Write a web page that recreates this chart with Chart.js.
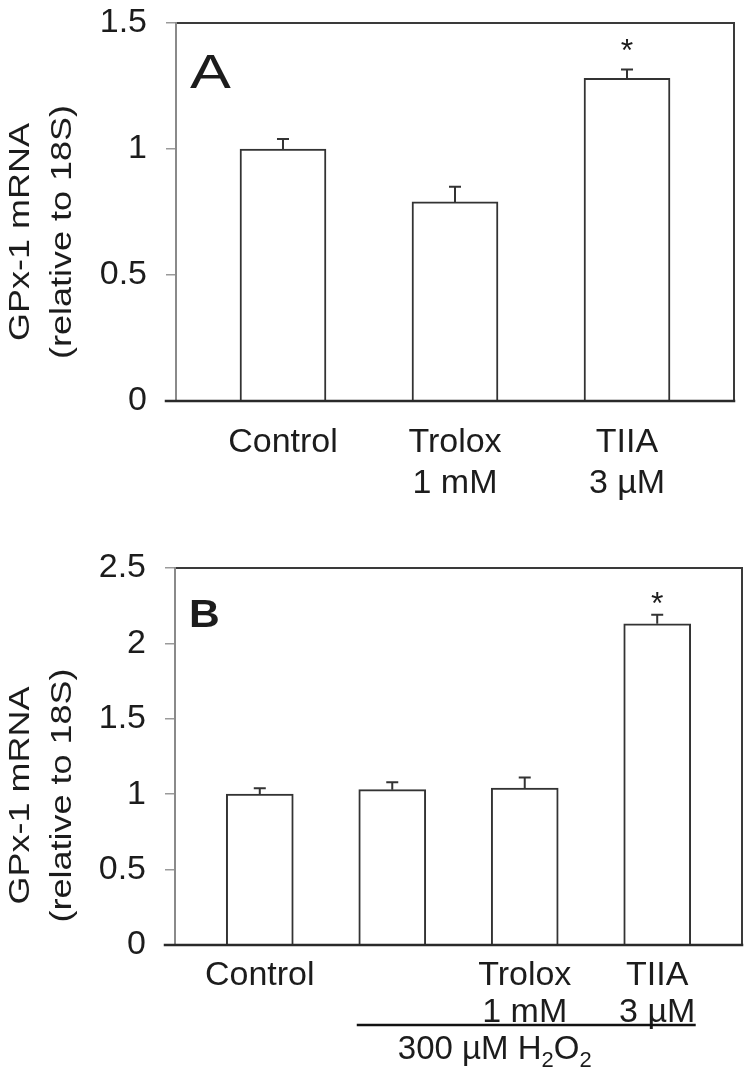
<!DOCTYPE html>
<html>
<head>
<meta charset="utf-8">
<script src="https://cdn.jsdelivr.net/npm/chart.js@4.4.1/dist/chart.umd.min.js"></script>
<style>
  body { margin: 0; background: #fff; }
  canvas { position: absolute; left: 0; }
  #chartA { top: 0; }
  #chartB { top: 520px; }
</style>
</head>
<body>
<canvas id="chartA" width="750" height="520"></canvas>
<canvas id="chartB" width="750" height="548"></canvas>
<script>
// Panel A
const catsA = [['Control'], ['Trolox', '1 mM'], ['TIIA', '3 µM']];
const meanA = [1.00, 0.79, 1.28];
const semA = [0.04, 0.06, 0.035];
const starA = [false, false, true];
const yTicksA = [0, 0.5, 1, 1.5];

// Panel B
const catsB = [['Control'], [''], ['Trolox', '1 mM'], ['TIIA', '3 µM']];
const meanB = [1.00, 1.03, 1.04, 2.13];
const semB = [0.04, 0.05, 0.07, 0.06];
const starB = [false, false, false, true];
const yTicksB = [0, 0.5, 1, 1.5, 2, 2.5];
const groupB = [1, 3];          // bars under the H2O2 line (index from..to)
const groupLabelB = ['300 µM H', '2', 'O', '2'];

const yTitle = ['GPx-1 mRNA', '(relative to 18S)'];
const FONT = '"Liberation Sans", Arial, sans-serif';
const INK = '#1c1c1c';

// Rahmen, Fehlerbalken, Sternchen, Buchstabe
const panelPlugin = {
  id: 'panelExtras',
  afterDraw(chart) {
    const o = chart.options.plugins.panelExtras;
    const ctx = chart.ctx;
    const a = chart.chartArea;
    const xs = chart.scales.x, ys = chart.scales.y;
    ctx.save();

    // frame
    ctx.lineCap = 'square';
    ctx.strokeStyle = '#3a3a3a';
    ctx.lineWidth = 2;
    ctx.beginPath();
    ctx.moveTo(a.left, a.top); ctx.lineTo(a.right, a.top); ctx.lineTo(a.right, a.bottom);
    ctx.stroke();
    ctx.strokeStyle = '#8a8a8a';
    ctx.beginPath();
    ctx.moveTo(a.left, a.top); ctx.lineTo(a.left, a.bottom);
    ctx.stroke();
    ctx.strokeStyle = '#2a2a2a';
    ctx.lineWidth = 2.5;
    ctx.beginPath();
    ctx.moveTo(a.left - 10, a.bottom); ctx.lineTo(a.right, a.bottom);
    ctx.stroke();

    // error bars + stars
    const meta = chart.getDatasetMeta(0);
    ctx.strokeStyle = '#333';
    ctx.lineWidth = 2;
    ctx.lineCap = 'butt';
    meta.data.forEach((bar, i) => {
      const top = ys.getPixelForValue(o.mean[i]);
      const tip = ys.getPixelForValue(o.mean[i] + o.sem[i]);
      ctx.beginPath();
      ctx.moveTo(bar.x, top); ctx.lineTo(bar.x, tip);
      ctx.moveTo(bar.x - 6, tip); ctx.lineTo(bar.x + 6, tip);
      ctx.stroke();
      if (o.star[i]) {
        ctx.fillStyle = INK;
        ctx.font = '32px ' + FONT;
        ctx.textAlign = 'center';
        ctx.textBaseline = 'alphabetic';
        ctx.fillText('*', bar.x, tip - o.starGap + 18);
      }
    });

    // panel letter (etwas breiter gezogen wie im Original)
    ctx.fillStyle = INK;
    ctx.font = o.letterFont;
    ctx.textAlign = 'left';
    ctx.textBaseline = 'alphabetic';
    ctx.save();
    ctx.translate(a.left + 14, a.top + o.letterDrop);
    ctx.scale(o.letterStretch, 1);
    ctx.fillText(o.letter, 0, 0);
    ctx.restore();

    // y title (two lines, rotated)
    ctx.font = '30px ' + FONT;
    ctx.textAlign = 'center';
    ctx.textBaseline = 'middle';
    const cy = (a.top + a.bottom) / 2 + o.titleShift;
    yTitle.forEach((line, k) => {
      ctx.save();
      ctx.translate(21 + k * 42, cy);
      ctx.rotate(-Math.PI / 2);
      ctx.scale(1.2, 1);
      ctx.fillText(line, 0, 0);
      ctx.restore();
    });

    // group line with label (panel B)
    if (o.group) {
      const half = o.barThickness / 2;
      const x0 = xs.getPixelForValue(o.group[0] + 1) - half - 2;
      const x1 = xs.getPixelForValue(o.group[1] + 1) + half + 5;
      const ly = a.bottom + 80;
      ctx.strokeStyle = '#111';
      ctx.lineWidth = 2.5;
      ctx.beginPath();
      ctx.moveTo(x0, ly); ctx.lineTo(x1, ly);
      ctx.stroke();
      // label with subscripts
      const big = '33px ' + FONT, small = '22px ' + FONT;
      const parts = o.groupLabel.map((t, k) => ({ t, sub: k % 2 === 1 }));
      let w = 0;
      parts.forEach(p => { ctx.font = p.sub ? small : big; w += ctx.measureText(p.t).width; });
      let x = x0 + 138 - w / 2;
      const base = ly + 34;
      ctx.textAlign = 'left';
      ctx.textBaseline = 'alphabetic';
      parts.forEach(p => {
        ctx.font = p.sub ? small : big;
        ctx.fillText(p.t, x, p.sub ? base + 8 : base);
        x += ctx.measureText(p.t).width;
      });
    }
    ctx.restore();
  }
};

function makePanel(id, cats, mean, sem, star, yTicks, p) {
  const n = cats.length;
  return new Chart(document.getElementById(id), {
    type: 'bar',
    data: {
      datasets: [{
        data: mean.map((v, i) => ({ x: i + 1, y: v })),
        backgroundColor: '#ffffff',
        borderColor: '#333333',
        borderWidth: 2,
        barThickness: p.barThickness
      }]
    },
    options: {
      responsive: false,
      animation: false,
      devicePixelRatio: 1,
      layout: { padding: { top: p.top, right: p.right, left: 0, bottom: 0 } },
      plugins: {
        legend: { display: false },
        tooltip: { enabled: false },
        panelExtras: {
          mean, sem, star,
          letter: p.letter, letterFont: p.letterFont, letterDrop: p.letterDrop,
          letterStretch: p.letterStretch,
          titleShift: p.titleShift, starGap: p.starGap,
          barThickness: p.barThickness,
          group: p.group, groupLabel: p.groupLabel
        }
      },
      scales: {
        x: {
          type: 'linear',
          offset: false,
          min: 1 - p.margin,
          max: n + p.margin,
          afterBuildTicks: s => { s.ticks = cats.map((c, i) => ({ value: i + 1 })); },
          afterFit: s => { s.height = p.xHeight; s.paddingLeft = 0; s.paddingRight = 0; },
          grid: { display: false },
          border: { display: false },
          ticks: {
            autoSkip: false,
            maxRotation: 0,
            padding: p.xPad,
            color: INK,
            font: { family: FONT, size: 34, lineHeight: p.xLine },
            callback: (v, i) => cats[i]
          }
        },
        y: {
          min: 0,
          max: yTicks[yTicks.length - 1],
          afterBuildTicks: s => { s.ticks = yTicks.map(v => ({ value: v })); },
          afterFit: s => { s.width = p.yWidth; s.paddingTop = 0; s.paddingBottom = 0; },
          grid: { drawOnChartArea: false, tickLength: 10, color: '#9a9a9a', lineWidth: 1.5 },
          border: { display: false },
          ticks: {
            padding: 19,
            color: INK,
            font: { family: FONT, size: 34 },
            callback: v => String(v)
          }
        }
      }
    },
    plugins: [panelPlugin]
  });
}

makePanel('chartA', catsA, meanA, semA, starA, yTicksA, {
  top: 23, right: 16, yWidth: 176, xHeight: 119, margin: 0.622,
  barThickness: 86, xPad: 14, xLine: 1.18,
  letter: 'A', letterFont: '49px ' + FONT, letterDrop: 65, letterStretch: 1.25,
  titleShift: 20, starGap: 27
});

makePanel('chartB', catsB, meanB, semB, starB, yTicksB, {
  top: 48, right: 8, yWidth: 175, xHeight: 123, margin: 0.64,
  barThickness: 67, xPad: 4, xLine: 1.1,
  letter: 'B', letterFont: 'bold 38px ' + FONT, letterDrop: 59, letterStretch: 1.12,
  titleShift: 39, starGap: 19,
  group: groupB, groupLabel: groupLabelB
});
</script>
</body>
</html>
